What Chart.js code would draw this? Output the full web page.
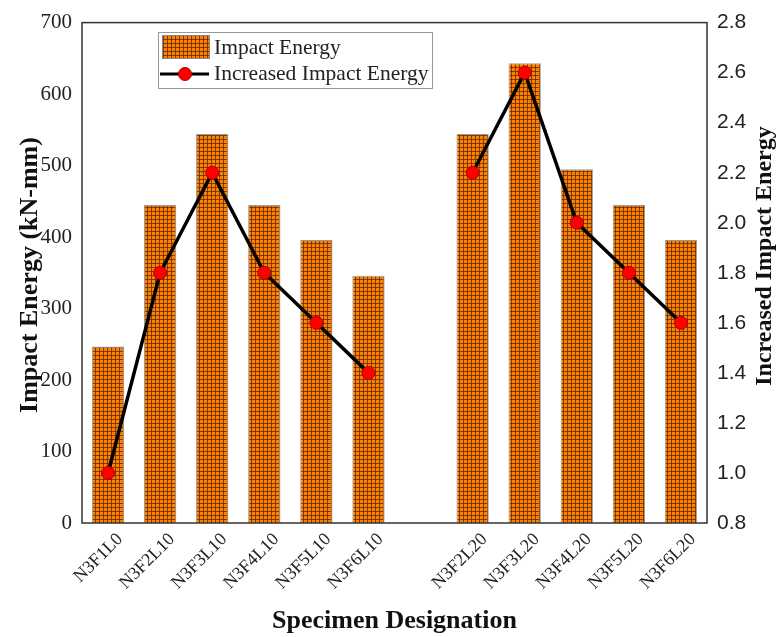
<!DOCTYPE html>
<html>
<head>
<meta charset="utf-8">
<script src="https://cdn.jsdelivr.net/npm/chart.js@4/dist/chart.umd.min.js"></script>
<style>
  html, body { margin: 0; padding: 0; background: #fff; }
  #wrap { width: 780px; height: 637px; }
</style>
</head>
<body>
<div id="wrap"><canvas id="c" width="780" height="637"></canvas></div>
<script>
// Specimens (an empty slot separates the L10 and L20 groups)
const specimens = ['N3F1L0', 'N3F2L10', 'N3F3L10', 'N3F4L10', 'N3F5L10', 'N3F6L10', '',
                   'N3F2L20', 'N3F3L20', 'N3F4L20', 'N3F5L20', 'N3F6L20'];
// Impact energy, kN-mm
const impactEnergy = [247, 445, 544, 445, 396, 346, null, 544, 643, 495, 445, 396];
// Impact energy relative to the control specimen
const increasedImpact = [1.0, 1.8, 2.2, 1.8, 1.6, 1.4, null, 2.2, 2.6, 2.0, 1.8, 1.6];
const leftTicks = [0, 100, 200, 300, 400, 500, 600, 700];
const rightTicks = [0.8, 1.0, 1.2, 1.4, 1.6, 1.8, 2.0, 2.2, 2.4, 2.6, 2.8];
const leftTitle = 'Impact Energy (kN-mm)';
const rightTitle = 'Increased Impact Energy';

// orange fill with a fine dark grid
function gridPattern() {
  const t = document.createElement('canvas');
  t.width = 4; t.height = 4;
  const g = t.getContext('2d');
  g.fillStyle = '#ff8000';
  g.fillRect(0, 0, 4, 4);
  g.fillStyle = 'rgba(90,40,0,0.75)';
  g.fillRect(3, 0, 1, 4);
  g.fillRect(0, 3, 4, 1);
  return document.getElementById('c').getContext('2d').createPattern(t, 'repeat');
}
const pattern = gridPattern();

const SERIF = '"Liberation Serif", "Times New Roman", serif';
const SANS = '"Liberation Sans", Arial, sans-serif';

const framePlugin = {
  id: 'frame',
  afterDraw(chart) {
    const { ctx, chartArea: a } = chart;
    ctx.save();
    ctx.strokeStyle = '#333';
    ctx.lineWidth = 1.5;
    ctx.strokeRect(a.left, a.top, a.right - a.left, a.bottom - a.top);
    ctx.restore();
  }
};

// both vertical axis titles read bottom-to-top
const axisTitles = {
  id: 'axisTitles',
  afterDraw(chart) {
    const { ctx } = chart;
    ctx.save();
    ctx.fillStyle = '#111';
    ctx.textAlign = 'center';
    ctx.textBaseline = 'middle';
    ctx.font = 'bold 26px ' + SERIF;
    ctx.translate(30, 275);
    ctx.rotate(-Math.PI / 2);
    ctx.fillText(leftTitle, 0, 0);
    ctx.restore();
    ctx.save();
    ctx.fillStyle = '#111';
    ctx.textAlign = 'center';
    ctx.textBaseline = 'middle';
    ctx.font = 'bold 24px ' + SERIF;
    ctx.translate(765, 256);
    ctx.rotate(-Math.PI / 2);
    ctx.fillText(rightTitle, 0, 0);
    ctx.restore();
  }
};

// legend box drawn inside the plot area
const innerLegend = {
  id: 'innerLegend',
  afterDraw(chart) {
    const { ctx } = chart;
    const x = 158, y = 32, w = 274, h = 56;
    ctx.save();
    ctx.fillStyle = '#fff';
    ctx.fillRect(x, y, w, h);
    ctx.strokeStyle = '#999';
    ctx.lineWidth = 1;
    ctx.strokeRect(x + 0.5, y + 0.5, w, h);
    // bar swatch
    ctx.fillStyle = pattern;
    ctx.fillRect(x + 4, y + 3, 47, 23);
    ctx.strokeStyle = '#888';
    ctx.strokeRect(x + 4.5, y + 3.5, 47, 23);
    // line swatch
    const ly = y + 42;
    ctx.strokeStyle = '#000';
    ctx.lineWidth = 3;
    ctx.beginPath();
    ctx.moveTo(x + 2, ly); ctx.lineTo(x + 51, ly); ctx.stroke();
    ctx.beginPath();
    ctx.arc(x + 27, ly, 6.5, 0, Math.PI * 2);
    ctx.fillStyle = '#ff0000';
    ctx.fill();
    ctx.lineWidth = 1;
    ctx.strokeStyle = '#b00000';
    ctx.stroke();
    ctx.fillStyle = '#222';
    ctx.font = '21.5px ' + SERIF;
    ctx.textBaseline = 'middle';
    ctx.textAlign = 'left';
    ctx.fillText(chart.data.datasets[1].label, x + 56, y + 16);
    ctx.fillText(chart.data.datasets[0].label, x + 56, ly);
    ctx.restore();
  }
};

new Chart(document.getElementById('c'), {
  data: {
    labels: specimens,
    datasets: [
      {
        type: 'line',
        label: 'Increased Impact Energy',
        data: increasedImpact,
        yAxisID: 'yR',
        borderColor: '#000',
        borderWidth: 3.5,
        pointRadius: 6.5,
        pointBackgroundColor: '#ff0000',
        pointBorderColor: '#b00000',
        pointBorderWidth: 1,
        spanGaps: false,
        tension: 0,
        order: 0
      },
      {
        type: 'bar',
        label: 'Impact Energy',
        data: impactEnergy,
        yAxisID: 'y',
        backgroundColor: pattern,
        borderColor: '#999',
        borderWidth: 1,
        categoryPercentage: 1,
        barPercentage: 0.62,
        order: 1
      }
    ]
  },
  options: {
    responsive: false,
    animation: false,
    layout: { padding: { top: 20, right: 0, left: 0, bottom: 0 } },
    plugins: { legend: { display: false }, tooltip: { enabled: false } },
    scales: {
      x: {
        grid: { display: false, drawTicks: false },
        border: { display: false },
        ticks: {
          color: '#222',
          font: { family: SERIF, size: 18 },
          maxRotation: 45, minRotation: 45,
          padding: 6,
          labelOffset: 12,
          autoSkip: false
        },
        title: {
          display: true,
          text: 'Specimen Designation',
          color: '#111',
          font: { family: SERIF, size: 26, weight: 'bold' },
          padding: { top: 4, bottom: 0 }
        },
        afterFit(s) { s.height = 114; }
      },
      y: {
        position: 'left',
        min: 0, max: 700,
        afterBuildTicks(s) { s.ticks = leftTicks.map(v => ({ value: v })); },
        grid: { display: false, drawTicks: false },
        border: { display: false },
        ticks: { color: '#222', font: { family: SERIF, size: 21 }, padding: 10 },
        afterFit(s) { s.width = 82; }
      },
      yR: {
        position: 'right',
        min: 0.8, max: 2.8,
        afterBuildTicks(s) { s.ticks = rightTicks.map(v => ({ value: v })); },
        grid: { display: false, drawTicks: false },
        border: { display: false },
        ticks: {
          color: '#222',
          font: { family: SANS, size: 21 },
          padding: 10,
          callback: v => Number(v).toFixed(1)
        },
        afterFit(s) { s.width = 73; }
      }
    }
  },
  plugins: [framePlugin, axisTitles, innerLegend]
});
</script>
</body>
</html>
